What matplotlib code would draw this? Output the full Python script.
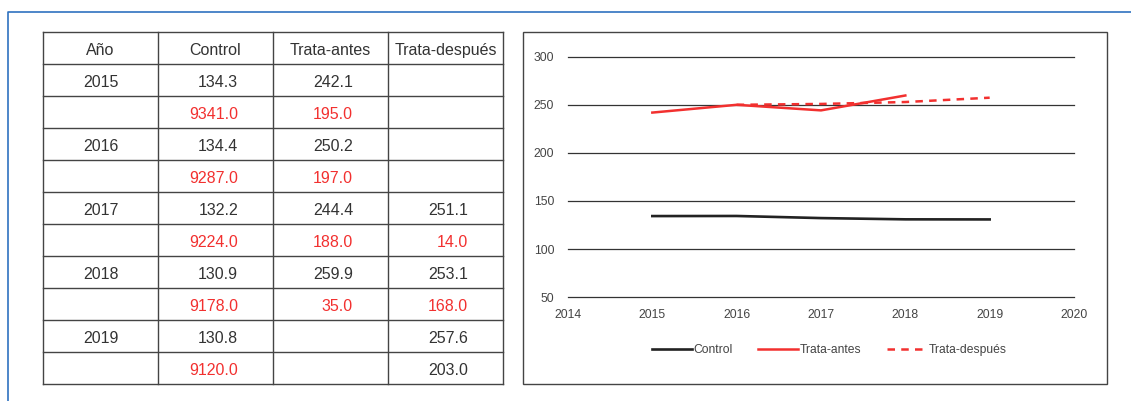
import matplotlib.pyplot as plt
from matplotlib.patches import Rectangle

plt.rcParams['font.family'] = ['Liberation Sans', 'DejaVu Sans']

# table data (black = mean, red = second row per year)
years = [2015, 2016, 2017, 2018, 2019]
control = [134.3, 134.4, 132.2, 130.9, 130.8]
control_n = [9341.0, 9287.0, 9224.0, 9178.0, 9120.0]
antes = [242.1, 250.2, 244.4, 259.9, None]
antes_n = [195.0, 197.0, 188.0, 35.0, None]
despues = [None, None, 251.1, 253.1, 257.6]
despues_n = [None, None, 14.0, 168.0, 203.0]
headers = ['Año', 'Control', 'Trata-antes', 'Trata-después']

# line chart series
x_control = [2015, 2016, 2017, 2018, 2019]
y_control = [134.3, 134.4, 132.2, 130.9, 130.8]
x_antes = [2015, 2016, 2017, 2018]
y_antes = [242.1, 250.2, 244.4, 259.9]
x_despues = [2016, 2017, 2018, 2019]
y_despues = [250.2, 251.1, 253.1, 257.6]

txt = '#333333'
red = '#f2302f'

fig = plt.figure(figsize=(11.31, 4.01), dpi=100)
bg = fig.add_axes([0, 0, 1, 1])
bg.set_xlim(0, 1131)
bg.set_ylim(401, 0)
bg.axis('off')

# blue frame
bg.plot([8, 8, 1131], [401, 12, 12], color='#2f72c0', lw=1.2)

# table grid
cols = [43, 158, 273, 388, 503]
row_h = 32
top = 32
nrows = 11
for c in cols:
    bg.plot([c, c], [top, top + nrows * row_h], color='#444444', lw=1)
for r in range(nrows + 1):
    y = top + r * row_h
    bg.plot([cols[0], cols[-1]], [y, y], color='#444444', lw=1)

fs = 11.5
dy = 2.5
for i, h in enumerate(headers):
    bg.text((cols[i] + cols[i + 1]) / 2, top + row_h / 2 + dy, h, ha='center', va='center',
            fontsize=fs, color=txt)

def cell(col, row, val, color):
    if val is None:
        return
    bg.text(cols[col + 1] - 35, top + row_h * (row + 0.5) + dy, f'{val:.1f}', ha='right',
            va='center', fontsize=fs, color=color)

for k, yr in enumerate(years):
    r1 = 1 + 2 * k
    bg.text((cols[0] + cols[1]) / 2, top + row_h * (r1 + 0.5) + dy, str(yr), ha='center',
            va='center', fontsize=fs, color=txt)
    cell(1, r1, control[k], txt)
    cell(1, r1 + 1, control_n[k], red)
    cell(2, r1, antes[k], txt)
    cell(2, r1 + 1, antes_n[k], red)
    cell(3, r1, despues[k], txt)
    # 2019 second row is black in the original
    cell(3, r1 + 1, despues_n[k], txt if yr == 2019 else red)

# chart box
bg.add_patch(Rectangle((523, 32), 584, 352, fill=False, edgecolor='#444444', lw=1))

ax = fig.add_axes([568 / 1131, (401 - 297) / 401, (1074 - 568) / 1131, (297 - 57) / 401])
ax.plot(x_control, y_control, color='#222222', lw=1.9, label='Control')
ax.plot(x_antes, y_antes, color=red, lw=1.8, label='Trata-antes')
ax.plot(x_despues, y_despues, color=red, lw=1.8, ls=(0, (3, 2.5)), label='Trata-después')
ax.set_xlim(2014, 2020)
ax.set_ylim(50, 300)
ax.set_yticks([50, 100, 150, 200, 250, 300])
ax.set_xticks(range(2014, 2021))
ax.yaxis.grid(True, color='#333333', lw=0.9)
for gl in ax.get_ygridlines():
    gl.set_clip_on(False)
ax.set_axisbelow(True)
for s in ax.spines.values():
    s.set_visible(False)
ax.tick_params(length=0, labelsize=8.7, labelcolor='#444444')
ax.tick_params(axis='y', pad=10)
ax.tick_params(axis='x', pad=9)
ax.patch.set_alpha(0)

fig.legend(loc='center', bbox_to_anchor=(829 / 1131, 1 - 350 / 401), ncol=3, frameon=False,
           fontsize=8.7, handlelength=3.3, handletextpad=0.15, columnspacing=2.1,
           labelcolor='#444444')

fig.savefig('out.png', dpi=100)
